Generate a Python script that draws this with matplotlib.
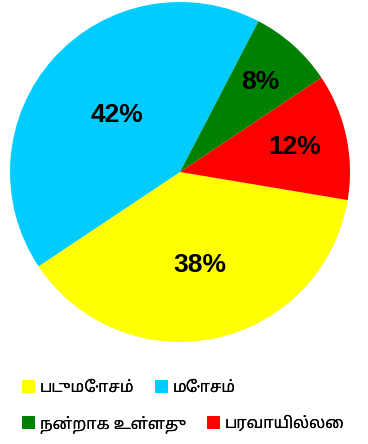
import matplotlib
matplotlib.use("Agg")
import numpy as np
import matplotlib.pyplot as plt
from matplotlib.patches import Patch

labels = ["படுமோசம்", "மோசம்", "நன்றாக உள்ளது", "பரவாயில்லை"]
values = [38, 42, 8, 12]
colors = ["#FFFF00", "#00CCFF", "#008000", "#FF0000"]
label_dist = [0.56, 0.50, 0.71, 0.69]

tamil_fonts = ["Noto Sans Tamil", "Noto Sans Tamil UI", "Lohit Tamil", "FreeSans",
               "Noto Serif Tamil", "DejaVu Sans"]

W, H = 368, 444
fig = plt.figure(figsize=(W / 100, H / 100), dpi=100)
ax = fig.add_axes([10 / W, (H - 342) / H, 340 / W, 340 / H])

wedges, _ = ax.pie(values, colors=colors, startangle=-9.5, counterclock=False,
                   radius=1.0, wedgeprops=dict(linewidth=0))
for w, v, d in zip(wedges, values, label_dist):
    mid = np.deg2rad((w.theta1 + w.theta2) / 2)
    ax.text(d * np.cos(mid), d * np.sin(mid), f"{v}%", ha="center", va="center",
            fontsize=19, fontweight="bold", family="Liberation Sans")
ax.set_xlim(-1, 1)
ax.set_ylim(-1, 1)
ax.set_aspect("equal")
ax.axis("off")

handles = [Patch(facecolor=c, edgecolor="none") for c in colors]
for row, y in [(0, 388), (1, 424)]:
    idx = [2 * row, 2 * row + 1]
    leg = fig.legend([handles[i] for i in idx], [labels[i] for i in idx],
                     loc="center left", bbox_to_anchor=(8 / W, 1 - y / H), ncol=2,
                     frameon=False, handlelength=0.8, handleheight=0.8,
                     handletextpad=0.3, columnspacing=1.3,
                     prop={"family": tamil_fonts, "size": 11.5})
    fig.add_artist(leg)

fig.savefig("out.png", dpi=100)
